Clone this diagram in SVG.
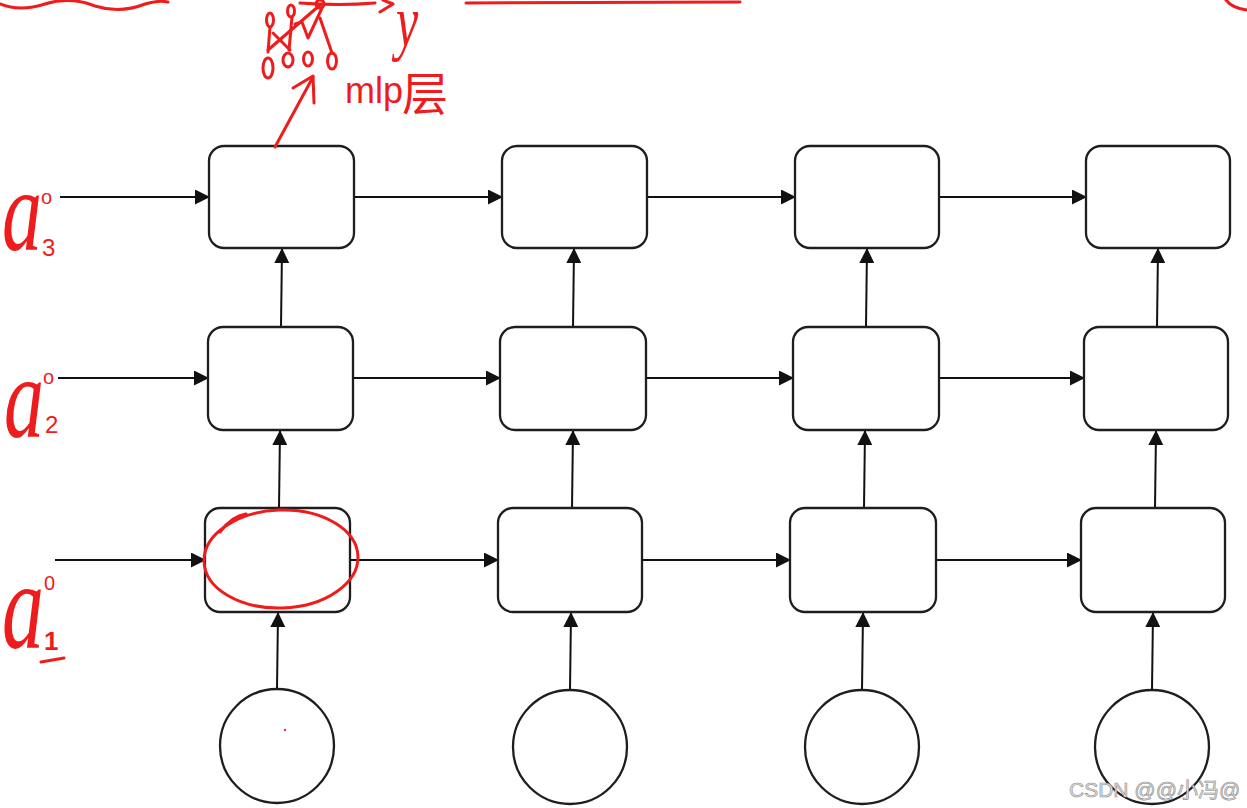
<svg xmlns="http://www.w3.org/2000/svg" width="1247" height="808" viewBox="0 0 1247 808">
<defs>
<style>
.box{fill:#fff;stroke:#1e1e1e;stroke-width:2.3}
.cir{fill:#fff;stroke:#1e1e1e;stroke-width:2.3}
.con{stroke:#111;stroke-width:2;fill:none;marker-end:url(#ah)}
.red{stroke:#ee1c1c;stroke-width:3;fill:none;stroke-linecap:round;stroke-linejoin:round}
.rt{fill:#ee1c1c;font-family:"Liberation Sans","Noto Sans CJK SC",sans-serif}
.ra{fill:#ee1c1c;font-family:"Liberation Serif",serif;font-style:italic}
.wm{fill:#e2e2e2;stroke:#8a8a8a;stroke-width:0.6;font-family:"Liberation Sans","Noto Sans CJK SC",sans-serif;font-size:21px}
</style>
<marker id="ah" markerUnits="userSpaceOnUse" markerWidth="15" markerHeight="15" refX="14" refY="7.5" orient="auto">
<path d="M0,0 L15,7.5 L0,15 z" fill="#111"/>
</marker>
</defs>
<rect width="1247" height="808" fill="#fff"/>

<g id="connectors">
<line class="con" x1="60" y1="197" x2="209" y2="197"/>
<line class="con" x1="354" y1="197" x2="502" y2="197"/>
<line class="con" x1="647" y1="197" x2="795" y2="197"/>
<line class="con" x1="939" y1="197" x2="1086" y2="197"/>
<line class="con" x1="58" y1="378" x2="208" y2="378"/>
<line class="con" x1="353" y1="378" x2="500" y2="378"/>
<line class="con" x1="646" y1="378" x2="793" y2="378"/>
<line class="con" x1="939" y1="378" x2="1084" y2="378"/>
<line class="con" x1="55" y1="560" x2="205" y2="560"/>
<line class="con" x1="350" y1="560" x2="498" y2="560"/>
<line class="con" x1="642" y1="560" x2="790" y2="560"/>
<line class="con" x1="936" y1="560" x2="1081" y2="560"/>
<line class="con" x1="277" y1="689" x2="278" y2="613"/>
<line class="con" x1="570" y1="690" x2="571" y2="613"/>
<line class="con" x1="862" y1="690" x2="863" y2="613"/>
<line class="con" x1="1152" y1="690" x2="1153" y2="613"/>
<line class="con" x1="279" y1="508" x2="280" y2="431"/>
<line class="con" x1="572" y1="508" x2="573" y2="431"/>
<line class="con" x1="864" y1="508" x2="865" y2="431"/>
<line class="con" x1="1155" y1="508" x2="1156" y2="431"/>
<line class="con" x1="281" y1="327" x2="282" y2="249"/>
<line class="con" x1="573" y1="327" x2="574" y2="249"/>
<line class="con" x1="866" y1="327" x2="867" y2="249"/>
<line class="con" x1="1157" y1="327" x2="1158" y2="249"/>
</g>

<g id="r3c1"><rect class="box" x="209" y="146" width="145" height="102" rx="15"/></g>
<g id="r3c2"><rect class="box" x="502" y="146" width="145" height="102" rx="15"/></g>
<g id="r3c3"><rect class="box" x="795" y="146" width="144" height="102" rx="15"/></g>
<g id="r3c4"><rect class="box" x="1086" y="146" width="144" height="102" rx="15"/></g>

<g id="r2c1"><rect class="box" x="208" y="327" width="145" height="103" rx="15"/></g>
<g id="r2c2"><rect class="box" x="500" y="327" width="146" height="103" rx="15"/></g>
<g id="r2c3"><rect class="box" x="793" y="327" width="146" height="103" rx="15"/></g>
<g id="r2c4"><rect class="box" x="1084" y="327" width="144" height="103" rx="15"/></g>

<g id="r1c1"><rect class="box" x="205" y="508" width="145" height="104" rx="15"/></g>
<g id="r1c2"><rect class="box" x="498" y="508" width="144" height="104" rx="15"/></g>
<g id="r1c3"><rect class="box" x="790" y="508" width="146" height="104" rx="15"/></g>
<g id="r1c4"><rect class="box" x="1081" y="508" width="144" height="104" rx="15"/></g>

<g id="in1"><circle class="cir" cx="277" cy="746" r="57"/></g>
<g id="in2"><circle class="cir" cx="570" cy="747" r="57"/></g>
<g id="in3"><circle class="cir" cx="862" cy="747" r="57"/></g>
<g id="in4"><circle class="cir" cx="1152" cy="747" r="57"/></g>

<g id="annotations">
<ellipse class="red" cx="281" cy="559" rx="77" ry="49" transform="rotate(-2 281 559)"/>
<path class="red" d="M220,532 Q232,516 246,514" stroke-width="2"/>
<path class="red" d="M275,147 L313,77"/>
<path class="red" d="M293,88 L313,76 L314,103"/>
<g class="red" stroke-width="2.5">
<ellipse cx="270" cy="20" rx="3.5" ry="7"/>
<ellipse cx="291" cy="11" rx="3.5" ry="6"/>
<ellipse cx="320" cy="4" rx="4" ry="4"/>
<ellipse cx="268" cy="68" rx="5" ry="10"/>
<ellipse cx="288" cy="60" rx="5" ry="7"/>
<ellipse cx="308" cy="59" rx="4.5" ry="7"/>
<ellipse cx="332" cy="61" rx="4.5" ry="8"/>
<path d="M268,50 L320,5"/>
<path d="M273,33 L290,50"/>
<path d="M270,27 L268,52 M292,17 L289,50"/>
<path d="M295,24 L302,22 L308,38 L322,8"/>
<path d="M320,18 L332,53"/>
</g>
<path class="red" d="M0,4 Q20,12 45,4 Q70,-4 95,6 Q120,14 145,4 Q158,0 168,2"/>
<path class="red" d="M300,3 Q340,6 375,3"/>
<path class="red" d="M380,12 L393,4 L383,0"/>
<path class="red" d="M466,3 L740,2"/>
<path class="red" d="M1247,10 Q1232,8 1226,0"/>
<text class="ra" x="0" y="0" transform="translate(396,46) scale(1,1.5)" font-size="50">y</text>
<text class="rt" x="345" y="103" font-size="36">mlp</text>
<text class="rt" x="402" y="110" font-size="46">层</text>

<text class="ra" x="0" y="0" transform="translate(2,250) scale(1,1.45)" font-size="80">a</text>
<text class="rt" x="41" y="204" font-size="20">o</text>
<text class="rt" x="42" y="256" font-size="24">3</text>

<text class="ra" x="0" y="0" transform="translate(4,437) scale(1,1.45)" font-size="80">a</text>
<text class="rt" x="43" y="384" font-size="20">o</text>
<text class="rt" x="45" y="433" font-size="24">2</text>

<text class="ra" x="0" y="0" transform="translate(2,648) scale(1,1.5)" font-size="84">a</text>
<text class="rt" x="44" y="590" font-size="20">0</text>
<text class="rt" x="44" y="650" font-size="26" font-weight="bold">1</text>
<path class="red" d="M41,662 L64,658"/>
<circle cx="285" cy="730" r="1.2" fill="#e0306a"/>
</g>

<text class="wm" x="1069" y="797">CSDN @@小冯@</text>
</svg>
